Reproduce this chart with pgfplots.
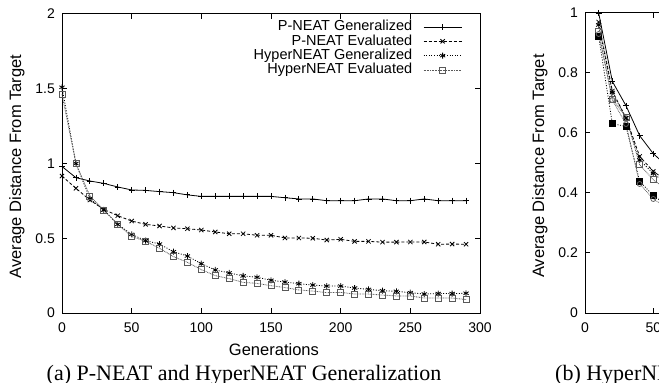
\documentclass[border=0pt]{standalone}
\usepackage{fontspec}
\setmainfont{Liberation Serif}
\newfontfamily\arial{Liberation Sans}
\usepackage{pgfplots}
\pgfplotsset{compat=1.18}
\usepackage{pgfplotstable}

\pgfplotstableread{
gen PG PE HG HE
0   0.980 0.916 1.510 1.463
10  0.905 0.834 1.000 1.000
20  0.883 0.756 0.765 0.783
30  0.867 0.693 0.689 0.689
40  0.843 0.651 0.593 0.593
50  0.823 0.615 0.526 0.512
60  0.820 0.593 0.484 0.480
70  0.812 0.582 0.461 0.433
80  0.805 0.569 0.410 0.377
90  0.790 0.564 0.381 0.339
100 0.780 0.555 0.330 0.290
110 0.780 0.542 0.288 0.250
120 0.780 0.530 0.268 0.230
130 0.780 0.530 0.248 0.205
140 0.780 0.520 0.239 0.198
150 0.780 0.520 0.219 0.183
160 0.771 0.502 0.207 0.170
170 0.763 0.502 0.196 0.154
180 0.763 0.500 0.187 0.147
190 0.751 0.488 0.180 0.136
200 0.751 0.493 0.180 0.138
210 0.751 0.479 0.167 0.127
220 0.763 0.479 0.158 0.127
230 0.763 0.474 0.149 0.120
240 0.751 0.474 0.145 0.114
250 0.751 0.475 0.136 0.114
260 0.763 0.475 0.127 0.100
270 0.751 0.460 0.130 0.100
280 0.751 0.461 0.130 0.100
290 0.751 0.460 0.132 0.090
}\leftdata

\pgfplotsset{
  gp/.style={
    scale only axis, width=418pt, height=299pt,
    anchor=south west, clip=false,
    xmin=0, xmax=300, ymin=0,
    xtick={0,50,...,300},
    tick align=inside, major tick length=5pt,
    axis line style={black, line width=1pt},
    every tick/.style={black, line width=1pt},
    minor tick num=0,
    /pgf/number format/assume math mode=true,
    tick label style={font=\arial\fontsize{14}{16}\selectfont},
    xticklabel style={anchor=base, yshift=-19pt},
    yticklabel style={anchor=east, inner sep=0pt, xshift=-7pt},
    label style={font=\arial\fontsize{16.5}{18}\selectfont},
    xlabel={Generations},
    xlabel style={at={(axis description cs:0.507,-0.1405)}, anchor=base},
    ylabel={Average Distance From Target},
    ylabel style={at={(axis description cs:-0.108,0.49)}, anchor=center},
  },
  s1/.style={black, line width=0.8pt, mark=+, mark size=3pt, mark options={solid}},
  s2/.style={black, line width=0.8pt, dash pattern=on 3pt off 2pt, mark=x, mark size=3pt, mark options={solid}},
  s3/.style={black, line width=0.8pt, dash pattern=on 1pt off 1.6pt, mark=asterisk, mark size=3pt, mark options={solid}},
  s4/.style={black!65, line width=0.8pt, dash pattern=on 0.8pt off 0.8pt, mark=square, mark size=3pt, mark options={solid}},
}

\begin{document}
\begin{tikzpicture}
\useasboundingbox (0,0) rectangle (659pt,383pt);
\clip (0,0) rectangle (659pt,383pt);

\begin{axis}[gp, at={(62pt,70pt)}, ymax=2, ytick={0,0.5,1,1.5,2},
  yticklabels={0,0.5,1,1.5,2},
  legend plot pos=right, legend cell align=right,
  legend image code/.code={\draw[mark repeat=2,mark phase=2,#1] plot coordinates {(0pt,0pt) (19pt,0pt) (38pt,0pt)};},
  legend style={at={(axis description cs:0.957,0.979)}, anchor=north east,
    draw=none, fill=none, inner sep=0pt, outer sep=0pt,
    font=\arial\fontsize{14.5}{15}\selectfont,
    nodes={font=\arial\fontsize{14.5}{15}\selectfont, inner sep=0pt, text height=10.5pt, text depth=3pt},
    row sep=0.8pt, column sep=11pt},
]
\addplot[s1] table[x=gen, y=PG] {\leftdata};
\addlegendentry{P-NEAT Generalized}
\addplot[s2] table[x=gen, y=PE] {\leftdata};
\addlegendentry{P-NEAT Evaluated}
\addplot[s3] table[x=gen, y=HG] {\leftdata};
\addlegendentry{HyperNEAT Generalized}
\addplot[s4] table[x=gen, y=HE] {\leftdata};
\addlegendentry{HyperNEAT Evaluated}
\end{axis}

\begin{axis}[gp, at={(585pt,70pt)}, width=410pt, height=300pt, ymax=1,
  ytick={0,0.2,0.4,0.6,0.8,1}, yticklabels={0,0.2,0.4,0.6,0.8,1},
  ylabel style={at={(axis description cs:-0.11,0.49)}, anchor=center}]
\addplot[s1] coordinates {(10,1.0) (20,0.772) (30,0.691) (40,0.591) (50,0.531) (60,0.49)};
\addplot[s2] coordinates {(10,0.97) (20,0.74) (30,0.65) (40,0.522) (50,0.472) (60,0.44)};
\addplot[s3] coordinates {(10,0.96) (20,0.735) (30,0.65) (40,0.51) (50,0.465) (60,0.43)};
\addplot[s4] coordinates {(10,0.94) (20,0.713) (30,0.653) (40,0.494) (50,0.444) (60,0.41)};
\addplot[black, line width=0.8pt, dash pattern=on 1pt off 1.6pt, mark=square*, mark size=3pt, mark options={solid}]
  coordinates {(10,0.922) (20,0.631) (30,0.622) (40,0.439) (50,0.391) (60,0.36)};
\addplot[black!60, line width=0.8pt, dash pattern=on 0.8pt off 0.8pt, mark=o, mark size=2.5pt, mark options={solid}]
  coordinates {(10,0.93) (20,0.71) (30,0.63) (40,0.43) (50,0.38) (60,0.35)};
\end{axis}

\node[anchor=base, font=\fontsize{22}{24}\selectfont, inner sep=0pt] at (244pt,2.4pt)
  {(a) P-NEAT and HyperNEAT Generalization};
\node[anchor=base west, font=\fontsize{22}{24}\selectfont, inner sep=0pt] at (555pt,2.4pt)
  {(b) HyperNEAT Generalization};
\end{tikzpicture}
\end{document}
